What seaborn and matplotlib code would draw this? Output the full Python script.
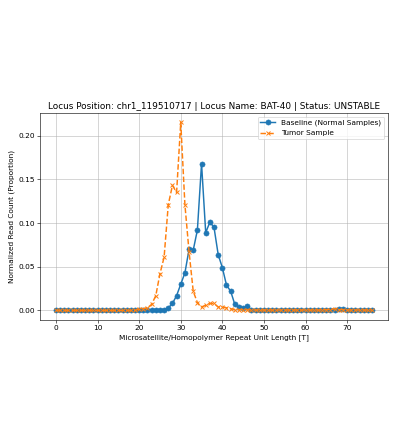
import numpy as np
import pandas as pd
import seaborn as sns
import matplotlib
matplotlib.use("Agg")
import matplotlib.pyplot as plt

# repeat unit lengths 0..76
lengths = list(range(77))

baseline = [0.0] * 22 + [
    0.0003, 0.001, 0.001, 0.001, 0.001, 0.003,   # 22-27
    0.008, 0.017, 0.030, 0.043, 0.070, 0.069,    # 28-33
    0.092, 0.168, 0.089, 0.101, 0.095, 0.064,    # 34-39
    0.049, 0.029, 0.022, 0.007, 0.004, 0.003,    # 40-45
    0.005, 0.001, 0.001, 0.001, 0.001, 0.001,    # 46-51
    0.0005, 0.0005, 0.0005, 0.0005, 0.0005, 0.0005,  # 52-57
    0.0005, 0.0005, 0.0005, 0.0005, 0.0005, 0.0005,  # 58-63
    0.0005, 0.001, 0.001, 0.001, 0.002, 0.002,   # 64-69
    0.001, 0.001, 0.0005, 0.0005, 0.0005, 0.0005, 0.0005,  # 70-76
]

tumor = [0.0] * 20 + [
    0.002, 0.002, 0.003, 0.007, 0.017, 0.042,    # 20-25
    0.061, 0.121, 0.143, 0.135, 0.215, 0.121,    # 26-31
    0.067, 0.022, 0.009, 0.004, 0.006, 0.008,    # 32-37
    0.008, 0.004, 0.004, 0.003, 0.002, 0.001,    # 38-43
    0.001, 0.001, 0.001, 0.0005, 0.0005, 0.0005,  # 44-49
] + [0.0005] * 15 + [0.001, 0.001, 0.002, 0.001, 0.001, 0.0005] + [0.0005] * 6

df = pd.DataFrame({"length": lengths, "baseline": baseline, "tumor": tumor})

# draw at low dpi so default matplotlib sizes shrink like the reference
DPI = 53
fig, ax = plt.subplots(figsize=(410 / DPI, 440 / DPI), dpi=DPI)
fig.subplots_adjust(left=0.098, right=0.946, bottom=0.273, top=0.743)

sns.lineplot(data=df, x="length", y="baseline", ax=ax, color="#1f77b4",
             marker="o", markeredgecolor="#1f77b4", linestyle="-",
             linewidth=2, markersize=7,
             label="Baseline (Normal Samples)")
sns.lineplot(data=df, x="length", y="tumor", ax=ax, color="#ff7f0e",
             marker="x", markeredgecolor="#ff7f0e", linestyle="--",
             linewidth=2, markersize=6, markeredgewidth=1.3,
             label="Tumor Sample")

ax.set_title("Locus Position: chr1_119510717 | Locus Name: BAT-40 | Status: UNSTABLE",
             fontsize=12)
ax.set_xlabel("Microsatellite/Homopolymer Repeat Unit Length [T]", fontsize=10)
ax.set_ylabel("Normalized Read Count (Proportion)", fontsize=10)
ax.tick_params(labelsize=10)
ax.set_yticks([0.0, 0.05, 0.10, 0.15, 0.20])
ax.grid(True, linewidth=1.0, alpha=0.7)
ax.legend(loc="upper right", fontsize=10)

fig.savefig("out.png", dpi=DPI)
